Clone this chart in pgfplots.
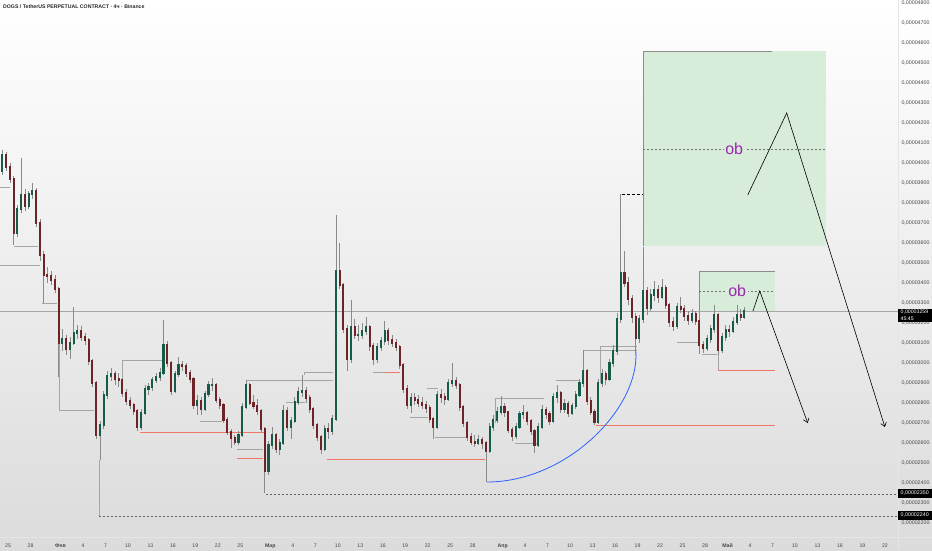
\documentclass[border=0pt]{standalone}
\usepackage{fontspec}
\setmainfont{Liberation Sans}
\usepackage{pgfplots}
\usepackage{pgfplotstable}
\pgfplotsset{compat=1.18}
\usetikzlibrary{arrows.meta}

\definecolor{bull}{RGB}{22,90,72}
\definecolor{bear}{RGB}{110,36,38}
\definecolor{wick}{RGB}{138,138,138}
\definecolor{obfill}{RGB}{216,236,218}
\definecolor{struct}{RGB}{165,165,165}
\definecolor{sred}{RGB}{238,120,100}
\definecolor{curve}{RGB}{41,98,255}
\definecolor{obtext}{RGB}{156,39,176}

% 12h candles from 24 Jan, x = days since 25 Jan
\pgfplotstableread{
o h l c
3960 4065 3940 4040
4040 4055 3960 3980
3980 4000 3900 3920
3920 3935 3590 3650
3650 3790 3630 3770
3770 4025 3750 3840
3840 3870 3760 3785
3785 3860 3770 3845
3845 3900 3820 3860
3860 3875 3680 3700
3700 3720 3510 3540
3540 3560 3300 3440
3440 3480 3400 3435
3435 3460 3390 3415
3415 3440 3350 3370
3370 3380 2930 3100
3100 3170 3060 3120
3120 3140 3040 3070
3070 3130 3020 3100
3100 3280 3090 3150
3150 3190 3120 3160
3160 3185 3110 3130
3130 3150 3090 3115
3115 3125 2990 3010
3010 3020 2880 2900
2900 2910 2620 2640
2640 2710 2515 2690
2690 2860 2670 2840
2840 2960 2820 2935
2935 2975 2910 2945
2945 2960 2890 2920
2920 2950 2880 2915
2915 2925 2830 2850
2850 2870 2790 2810
2810 2830 2770 2790
2790 2800 2740 2760
2760 2770 2660 2680
2680 2770 2665 2750
2750 2890 2740 2870
2870 2900 2840 2880
2880 2930 2860 2915
2915 2950 2900 2930
2930 2975 2910 2950
2950 3215 2940 3090
3090 3110 2980 3000
3000 3010 2840 2860
2860 2960 2850 2945
2945 3030 2930 2990
2990 3010 2960 2985
2985 3000 2930 2950
2950 2965 2900 2920
2920 2930 2770 2790
2790 2840 2740 2810
2810 2830 2740 2770
2770 2860 2760 2845
2845 2910 2830 2890
2890 2925 2860 2890
2890 2900 2800 2815
2815 2830 2770 2790
2790 2800 2700 2715
2715 2730 2640 2655
2655 2670 2575 2625
2625 2640 2590 2605
2605 2660 2590 2640
2640 2800 2630 2780
2780 2915 2770 2890
2890 2900 2790 2800
2800 2840 2770 2785
2785 2820 2740 2760
2760 2770 2650 2670
2670 2680 2350 2460
2460 2610 2440 2590
2590 2680 2570 2640
2640 2650 2550 2570
2570 2620 2540 2600
2600 2790 2590 2760
2760 2780 2660 2680
2680 2730 2620 2710
2710 2830 2700 2805
2805 2880 2790 2855
2855 2940 2830 2860
2860 2880 2800 2825
2825 2840 2750 2770
2770 2780 2670 2690
2690 2700 2610 2630
2630 2640 2545 2570
2570 2690 2560 2670
2670 2700 2620 2660
2660 2740 2640 2720
2720 3740 2710 3460
3460 3600 3370 3390
3390 3400 3150 3170
3170 3190 2960 3020
3020 3315 3000 3180
3180 3220 3120 3140
3140 3190 3110 3140
3140 3200 3120 3160
3160 3230 3140 3180
3180 3190 3060 3085
3085 3100 2990 3020
3020 3100 3000 3080
3080 3130 3060 3110
3110 3210 3090 3160
3160 3175 3090 3115
3115 3140 3080 3100
3100 3120 3060 3080
3080 3090 2970 2990
2990 3000 2850 2870
2870 2890 2770 2790
2790 2850 2750 2825
2825 2850 2790 2815
2815 2840 2780 2800
2800 2830 2770 2790
2790 2810 2750 2775
2775 2790 2700 2720
2720 2730 2620 2680
2680 2860 2670 2840
2840 2870 2800 2830
2830 2850 2790 2820
2820 2920 2810 2900
2900 3000 2880 2910
2910 2930 2870 2890
2890 2900 2760 2780
2780 2790 2680 2700
2700 2710 2610 2630
2630 2650 2590 2605
2605 2640 2580 2600
2600 2640 2590 2615
2615 2630 2570 2600
2600 2610 2405 2560
2560 2700 2550 2680
2680 2740 2660 2715
2715 2780 2700 2755
2755 2835 2740 2780
2780 2800 2730 2755
2755 2760 2650 2665
2665 2680 2610 2635
2635 2700 2620 2680
2680 2760 2670 2745
2745 2790 2720 2750
2750 2760 2690 2710
2710 2720 2640 2660
2660 2670 2550 2590
2590 2700 2580 2680
2680 2790 2670 2765
2765 2780 2720 2745
2745 2760 2690 2710
2710 2850 2700 2830
2830 2890 2800 2850
2850 2860 2750 2770
2770 2820 2750 2795
2795 2810 2730 2750
2750 2800 2740 2785
2785 2860 2770 2840
2840 2920 2830 2900
2900 3065 2880 2960
2960 2970 2790 2810
2810 2830 2740 2755
2755 2770 2690 2705
2705 2920 2695 2900
2900 2970 2880 2945
2945 2960 2890 2920
2920 3020 2910 3000
3000 3090 2980 3060
3060 3250 3040 3220
3220 3845 3200 3450
3450 3560 3380 3400
3400 3430 3290 3320
3320 3340 3200 3230
3230 3250 3065 3125
3125 3240 3100 3220
3220 3580 3200 3360
3360 3380 3240 3275
3275 3370 3260 3340
3340 3410 3310 3365
3365 3390 3300 3330
3330 3420 3320 3375
3375 3390 3270 3290
3290 3300 3180 3205
3205 3230 3160 3185
3185 3300 3170 3280
3280 3330 3250 3270
3270 3290 3210 3235
3235 3260 3190 3215
3215 3270 3200 3245
3245 3260 3190 3210
3210 3220 3070 3090
3090 3110 3050 3075
3075 3140 3060 3120
3120 3190 3100 3170
3170 3290 3150 3240
3240 3250 3040 3065
3065 3150 3050 3130
3130 3190 3110 3165
3165 3190 3130 3160
3160 3230 3150 3205
3205 3290 3190 3240
3240 3270 3210 3230
3230 3280 3220 3259
}\candles

\begin{document}
\begin{tikzpicture}
\useasboundingbox (0pt,0pt) rectangle (932pt,550pt);
\shade[top color=white, bottom color=black!14] (0pt,0pt) rectangle (932pt,550pt);
\draw[black!10] (0pt,13pt) -- (932pt,13pt);
\draw[black!10] (898pt,0pt) -- (898pt,550pt);

\begin{axis}[
  at={(0pt,13pt)}, anchor=south west,
  width=898pt, height=537pt, scale only axis,
  xmin=-1.07, xmax=118.75, ymin=2130, ymax=4815,
  axis line style={draw=none}, major tick length=0pt,
  ytick={2200,2300,...,4800}, yticklabel pos=right,
  yticklabel={0,0000\pgfmathprintnumber[fixed,precision=0,1000 sep={},assume math mode=true]{\tick}},
  yticklabel style={font=\fontsize{5.3}{6}\selectfont, text=black!72, anchor=west},
  xtick={0,3,7,10,13,16,19,22,25,28,31,35,38,41,44,47,50,53,56,59,62,66,69,72,75,78,81,84,87,90,93,96,99,102,105,108,111,114,117},
  xticklabels={25,28,\textbf{Фев},4,7,10,13,16,19,22,25,\textbf{Мар},4,7,10,13,16,19,22,25,28,\textbf{Апр},4,7,10,13,16,19,22,25,28,\textbf{Май},4,7,10,13,16,19,22},
  xticklabel style={font=\fontsize{5.2}{6}\selectfont, text=black!72, yshift=-3.4pt},
]
% order blocks
\fill[obfill] (84.7,3585) rectangle (109.2,4560);
\fill[obfill] (92.2,3260) rectangle (102.3,3460);
\draw[black!45, line width=0.5pt] (84.7,3585) -- (84.7,4560) -- (101.9,4560);
\draw[black!45, line width=0.5pt] (92.2,3045) -- (92.2,3460) -- (102.3,3460);
\draw[black!55, dash pattern=on 2pt off 2pt, line width=0.5pt] (84.7,4070) -- (109.2,4070);
\draw[black!55, dash pattern=on 2pt off 2pt, line width=0.5pt] (92.2,3360) -- (102.3,3360);
\node[fill=obfill, inner sep=1.5pt, text=obtext, font=\fontsize{16}{18}\selectfont] at (96.9,4070) {ob};
\node[fill=obfill, inner sep=1.5pt, text=obtext, font=\fontsize{16}{18}\selectfont] at (97.3,3360) {ob};

% structure lines
\begin{scope}[struct, line width=0.35pt]
\draw (-1.07,3880) -- (0.27,3880);
\draw (0.8,3585) -- (4.0,3585);
\draw (-1.07,3490) -- (4.3,3490);
\draw (4.5,3300) -- (6.5,3300);
\draw (6.8,3165) -- (6.8,2765) -- (11.5,2765);
\draw (15.2,2900) -- (15.2,3015) -- (20.9,3015);
\draw (25.6,2710) -- (28.6,2710);
\draw (30.6,2570) -- (34.0,2570);
\draw (31.9,2915) -- (43.4,2915);
\draw (39.5,2940) -- (39.5,2955) -- (43.4,2955);
\draw (37.1,2805) -- (39.6,2805);
\draw (48.7,2955) -- (50.3,2955);
\draw (53.6,2730) -- (56.0,2730);
\draw (55.9,2875) -- (57.4,2875);
\draw (57.0,2630) -- (61.4,2630);
\draw (65.0,2700) -- (65.0,2825) -- (71.5,2825);
\draw (67.6,2600) -- (70.6,2600);
\draw (73.1,2915) -- (76.2,2915);
\draw (76.7,3065) -- (83.9,3065);
\draw (79.0,2900) -- (79.0,3085) -- (83.9,3085);
\draw (89.3,3105) -- (92.3,3105);
\draw (92.6,3045) -- (94.6,3045);
\draw (94.7,3040) -- (94.7,2965);
\draw (12.1,2515) -- (12.1,2235);
\end{scope}
\begin{scope}[sred, line width=0.45pt]
\draw (17.6,2655) -- (34.3,2655);
\draw (30.6,2525) -- (34.0,2525);
\draw (42.6,2520) -- (63.7,2520);
\draw (50.3,2955) -- (52.3,2955);
\draw (78.5,2690) -- (102.3,2690);
\draw (94.7,2965) -- (102.3,2965);
\end{scope}

% lows marked with dashed levels
\draw[black!60, line width=0.5pt, dash pattern=on 2pt off 2pt] (12.1,2235) -- (118.75,2235);
\draw[black!60, line width=0.5pt, dash pattern=on 2pt off 2pt] (34.4,2345) -- (118.75,2345);

% last price line
\draw[black!35, line width=0.4pt] (-1.07,3259) -- (118.75,3259);

% rounded bottom
\draw[curve, line width=0.8pt] (63.9,2405) .. controls (75,2405) and (84.8,2800) .. (83.7,3080);

% wicks
\addplot[draw=none, mark=none, forget plot,
  error bars/.cd, y dir=both, y explicit, error mark=none,
  error bar style={draw=wick, line width=0.5pt}]
  table[x expr=\coordindex*0.5-0.75,
        y expr=(\thisrow{h}+\thisrow{l})/2,
        y error expr=(\thisrow{h}-\thisrow{l})/2] {\candles};
% up bodies
\addplot[draw=none, mark=none, forget plot,
  error bars/.cd, y dir=both, y explicit, error mark=none,
  error bar style={draw=bull, line width=2.1pt}]
  table[x expr=\coordindex*0.5-0.75,
        y expr=(\thisrow{o}+\thisrow{c})/2,
        y error expr=(1-(\thisrow{c}<\thisrow{o}))*(abs(\thisrow{c}-\thisrow{o})/2+4)] {\candles};
% down bodies
\addplot[draw=none, mark=none, forget plot,
  error bars/.cd, y dir=both, y explicit, error mark=none,
  error bar style={draw=bear, line width=2.1pt}]
  table[x expr=\coordindex*0.5-0.75,
        y expr=(\thisrow{o}+\thisrow{c})/2,
        y error expr=(\thisrow{c}<\thisrow{o})*(abs(\thisrow{c}-\thisrow{o})/2+4)] {\candles};

% top of the spike
\draw[black, line width=0.6pt, dash pattern=on 3pt off 2pt] (81.9,3845) -- (84.7,3845);

% scenario arrows
\draw[black, line width=0.6pt, -{Straight Barb[length=4pt,width=6pt]}] (98.7,3840) -- (103.9,4250) -- (117.0,2680);
\draw[black, line width=0.6pt, -{Straight Barb[length=4pt,width=6pt]}] (99.4,3260) -- (100.3,3360) -- (106.7,2700);
\end{axis}

% price scale badges
\fill[black] (898pt,228pt) rectangle (932pt,241pt);
\node[text=white, font=\fontsize{5.2}{6}\selectfont, anchor=west, inner sep=0pt] at (900.5pt,237.5pt) {0,00003259};
\node[text=white, font=\fontsize{5.2}{6}\selectfont, anchor=west, inner sep=0pt] at (900.5pt,231pt) {45:45};
\fill[black] (898pt,52.5pt) rectangle (932pt,61.5pt);
\node[text=white, font=\fontsize{5.3}{6}\selectfont, anchor=west, inner sep=0pt] at (900.5pt,57pt) {0,00002350};
\fill[black] (898pt,30.5pt) rectangle (932pt,39.5pt);
\node[text=white, font=\fontsize{5.3}{6}\selectfont, anchor=west, inner sep=0pt] at (900.5pt,35pt) {0,00002240};

% title
\node[anchor=west, inner sep=0pt, text=black!85, font=\fontsize{5.2}{6}\selectfont\bfseries] at (3pt,543pt) {DOGS / TetherUS PERPETUAL CONTRACT · 4ч · Binance};
\end{tikzpicture}
\end{document}
